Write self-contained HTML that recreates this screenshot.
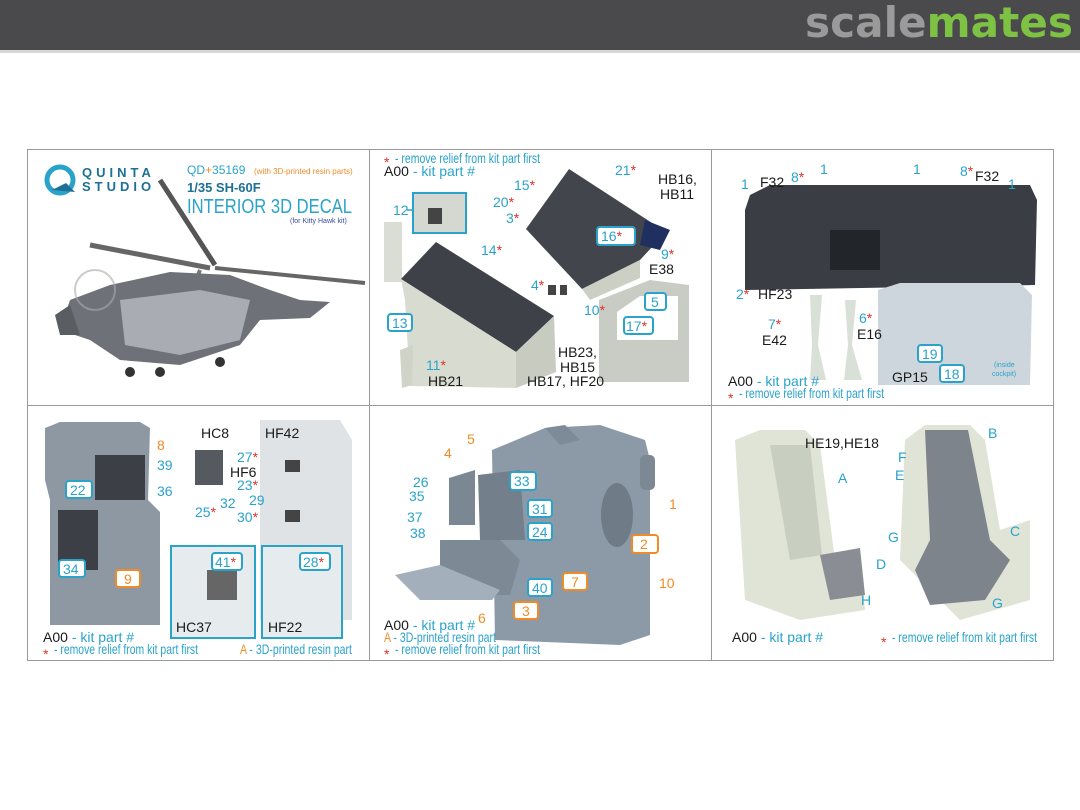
<!DOCTYPE html>
<html><head><meta charset="utf-8"><style>
html,body{margin:0;padding:0;background:#fff;width:1080px;height:810px;overflow:hidden}
svg{display:block}
text{font-family:"Liberation Sans",Arial,sans-serif}
.c{fill:#2aa3cb;font-size:14px}
.k{fill:#1a1a1a;font-size:14px}
.o{fill:#f08c28;font-size:14px}
.r{fill:#e3302a}
.bx{fill:#fff;stroke:#2aa3cb;stroke-width:2}
.ob{fill:#fff;stroke:#f08c28;stroke-width:2}
.lc{stroke:#2aa3cb;stroke-width:1.5}
</style></head><body>
<svg width="1080" height="810" viewBox="0 0 1080 810" xmlns="http://www.w3.org/2000/svg">
<rect x="0" y="0" width="1080" height="50" fill="#4a4a4c"/>
<rect x="0" y="50" width="1080" height="3" fill="#d8d8d8"/>
<text x="805" y="37" font-size="42" font-weight="bold" textLength="268" lengthAdjust="spacingAndGlyphs" style="font-family:'DejaVu Sans',sans-serif"><tspan fill="#9a9a9a">scale</tspan><tspan fill="#7dc242">mates</tspan></text>

<!-- grid -->
<rect x="27.5" y="149.5" width="1026" height="511" fill="#fff" stroke="#999" stroke-width="1"/>
<line x1="369.5" y1="149" x2="369.5" y2="661" stroke="#999"/>
<line x1="711.5" y1="149" x2="711.5" y2="661" stroke="#999"/>
<line x1="27" y1="405.5" x2="1054" y2="405.5" stroke="#999"/>

<!-- PANEL 1 -->
<circle cx="60" cy="180" r="13" fill="none" stroke="#2aa3cb" stroke-width="5"/>
<path d="M52 190 L75 192 L66 183 Z" fill="#1d6f96"/>
<text x="82" y="177" font-size="13" font-weight="bold" fill="#1d6f96" letter-spacing="4">QUINTA</text>
<text x="82" y="191" font-size="13" font-weight="bold" fill="#1d6f96" letter-spacing="4">STUDIO</text>
<text x="187" y="174" font-size="12" fill="#2aa3cb">QD<tspan fill="#f08c28">+</tspan>35169</text>
<text x="254" y="174" font-size="8" fill="#f08c28">(with 3D-printed resin parts)</text>
<text x="187" y="192" font-size="13" font-weight="bold" fill="#1d6f96">1/35 SH-60F</text>
<text x="187" y="213" font-size="20" fill="#2aa3cb" textLength="165" lengthAdjust="spacingAndGlyphs">INTERIOR 3D DECAL</text>
<text x="290" y="223" font-size="7" fill="#3a4aa0">(for Kitty Hawk kit)</text>
<!-- helicopter -->
<line x1="160" y1="180" x2="215" y2="265" stroke="#555" stroke-width="5"/>
<line x1="90" y1="245" x2="210" y2="268" stroke="#666" stroke-width="5"/>
<line x1="215" y1="268" x2="365" y2="283" stroke="#666" stroke-width="4"/>
<line x1="200" y1="270" x2="175" y2="335" stroke="#777" stroke-width="4"/>
<path d="M70 300 L110 285 L170 272 L230 275 L270 290 L300 300 L330 302 L310 318 L260 320 L240 345 L180 365 L120 360 L90 340 L60 330 Z" fill="#6e7178"/>
<path d="M120 300 L200 290 L250 300 L240 340 L180 355 L125 345 Z" fill="#a9adb3"/>
<path d="M55 315 L70 305 L80 335 L60 335 Z" fill="#5a5d62"/>
<circle cx="95" cy="290" r="20" fill="none" stroke="#aaa" stroke-width="2" opacity=".6"/>
<circle cx="130" cy="372" r="5" fill="#333"/><circle cx="220" cy="362" r="5" fill="#333"/><circle cx="160" cy="372" r="5" fill="#333"/>

<!-- PANEL 2 -->
<text x="384" y="167" class="r" font-size="14">*</text><text x="395" y="163" class="c" font-size="10" textLength="145" lengthAdjust="spacingAndGlyphs">- remove relief from kit part first</text>
<text x="384" y="176" class="k" font-size="10">A00 <tspan fill="#2aa3cb">- kit part #</tspan></text>
<rect x="384" y="222" width="18" height="60" fill="#d9ddd3"/>
<path d="M401 279 L436 242 L554 316 L516 352 Z" fill="#3e4248"/>
<path d="M401 279 L516 352 L516 388 L410 386 L405 300 Z" fill="#d8dcd0"/>
<path d="M516 352 L554 316 L556 372 L516 388 Z" fill="#c8ccc0"/>
<rect x="413" y="193" width="53" height="40" fill="#d5d8d0" stroke="#2aa3cb" stroke-width="2"/>
<rect x="428" y="208" width="14" height="16" fill="#444"/>
<path d="M400 350 L413 345 L412 385 L402 388 Z" fill="#d0d3c8"/>
<path d="M526 229 L569 169 L666 232 L640 260 L582 289 Z" fill="#42464c"/>
<path d="M582 289 L640 260 L640 278 L590 300 Z" fill="#ccd0c4"/>
<path d="M645 220 L670 230 L660 250 L640 245 Z" fill="#1e2f60"/>
<path d="M548 285 L556 285 L556 295 L548 295 Z M560 285 L567 285 L567 295 L560 295 Z" fill="#444"/>
<path d="M599 300 L650 280 L689 285 L689 382 L599 382 Z" fill="#c9ccc4"/>
<path d="M617 312 L640 296 L678 296 L678 340 L617 340 Z" fill="#fff"/>
<text x="393" y="215" class="c">12</text><line x1="407" y1="210" x2="413" y2="210" class="lc"/>
<rect x="388" y="314" width="24" height="17" rx="3" class="bx"/><text x="392" y="328" class="c">13</text>
<text x="481" y="255" class="c">14<tspan class="r">*</tspan></text>
<text x="514" y="190" class="c">15<tspan class="r">*</tspan></text>
<text x="493" y="207" class="c">20<tspan class="r">*</tspan></text>
<text x="506" y="223" class="c">3<tspan class="r">*</tspan></text>
<rect x="597" y="227" width="38" height="18" rx="3" class="bx"/><text x="601" y="241" class="c">16<tspan class="r">*</tspan></text>
<text x="615" y="175" class="c">21<tspan class="r">*</tspan></text>
<text x="658" y="184" class="k">HB16,</text><text x="660" y="199" class="k">HB11</text>
<text x="661" y="259" class="c">9<tspan class="r">*</tspan></text>
<text x="649" y="274" class="k">E38</text>
<text x="531" y="290" class="c">4<tspan class="r">*</tspan></text>
<text x="584" y="315" class="c">10<tspan class="r">*</tspan></text>
<rect x="645" y="293" width="21" height="17" rx="3" class="bx"/><text x="651" y="307" class="c">5</text>
<rect x="624" y="317" width="29" height="17" rx="3" class="bx"/><text x="626" y="331" class="c">17<tspan class="r">*</tspan></text>
<text x="558" y="357" class="k">HB23,</text><text x="560" y="372" class="k">HB15</text>
<text x="426" y="370" class="c">11<tspan class="r">*</tspan></text>
<text x="428" y="386" class="k">HB21</text>
<text x="527" y="386" class="k">HB17, HF20</text>

<!-- PANEL 3 -->
<path d="M750 195 L770 185 L1030 185 L1037 200 L1035 285 L745 290 L745 210 Z" fill="#3a3d43"/>
<rect x="830" y="230" width="50" height="40" fill="#22252a"/>
<path d="M878 290 L900 283 L1020 283 L1032 295 L1030 385 L878 385 Z" fill="#cdd6dc"/>
<path d="M810 295 L822 295 L818 345 L826 380 L810 380 L812 345 Z" fill="#d8e0d8"/>
<path d="M845 300 L856 300 L852 345 L862 380 L844 380 L848 345 Z" fill="#d8e0d8"/>
<text x="741" y="189" class="c">1</text><text x="820" y="174" class="c">1</text><text x="913" y="174" class="c">1</text><text x="1008" y="189" class="c">1</text>
<text x="760" y="187" class="k">F32</text><text x="791" y="182" class="c">8<tspan class="r">*</tspan></text>
<text x="960" y="176" class="c">8<tspan class="r">*</tspan></text><text x="975" y="181" class="k">F32</text>
<text x="736" y="299" class="c">2<tspan class="r">*</tspan></text><text x="758" y="299" class="k">HF23</text>
<text x="768" y="329" class="c">7<tspan class="r">*</tspan></text><text x="762" y="345" class="k">E42</text>
<text x="859" y="323" class="c">6<tspan class="r">*</tspan></text><text x="857" y="339" class="k">E16</text>
<rect x="918" y="345" width="24" height="17" rx="3" class="bx"/><text x="922" y="359" class="c">19</text>
<rect x="940" y="365" width="24" height="17" rx="3" class="bx"/><text x="944" y="379" class="c">18</text>
<text x="892" y="382" class="k">GP15</text>
<text x="994" y="367" font-size="7" fill="#2aa3cb">(inside</text><text x="992" y="376" font-size="7" fill="#2aa3cb">cockpit)</text>
<text x="728" y="386" class="k" font-size="10">A00 <tspan fill="#2aa3cb">- kit part #</tspan></text>
<text x="728" y="403" class="r" font-size="14">*</text><text x="739" y="398" class="c" font-size="10" textLength="145" lengthAdjust="spacingAndGlyphs">- remove relief from kit part first</text>

<!-- PANEL 4 -->
<path d="M45 428 L60 422 L140 422 L150 428 L148 500 L160 512 L160 625 L50 625 L50 500 L45 480 Z" fill="#8e98a3"/>
<rect x="95" y="455" width="50" height="45" fill="#3c4046"/>
<rect x="58" y="510" width="40" height="60" fill="#3c4046"/>
<rect x="195" y="450" width="28" height="35" fill="#555a60"/>
<path d="M260 420 L340 420 L352 440 L352 620 L260 620 Z" fill="#dfe3e6"/>
<rect x="285" y="460" width="15" height="12" fill="#444"/><rect x="285" y="510" width="15" height="12" fill="#444"/>
<rect x="171" y="546" width="84" height="92" fill="#e6ebee" stroke="#2aa3cb" stroke-width="2"/>
<rect x="262" y="546" width="80" height="92" fill="#e6ebee" stroke="#2aa3cb" stroke-width="2"/>
<rect x="207" y="570" width="30" height="30" fill="#666"/>
<text x="157" y="450" class="o">8</text><text x="157" y="470" class="c">39</text><text x="157" y="496" class="c">36</text>
<rect x="66" y="481" width="26" height="17" rx="3" class="bx"/><text x="70" y="495" class="c">22</text>
<rect x="59" y="560" width="26" height="17" rx="3" class="bx"/><text x="63" y="574" class="c">34</text>
<rect x="116" y="570" width="24" height="17" rx="3" class="ob"/><text x="124" y="584" class="o">9</text>
<text x="201" y="438" class="k">HC8</text><text x="265" y="438" class="k">HF42</text>
<text x="237" y="462" class="c">27<tspan class="r">*</tspan></text>
<text x="230" y="477" class="k">HF6</text>
<text x="237" y="490" class="c">23<tspan class="r">*</tspan></text>
<text x="249" y="505" class="c">29</text>
<text x="237" y="522" class="c">30<tspan class="r">*</tspan></text>
<text x="195" y="517" class="c">25<tspan class="r">*</tspan></text>
<text x="220" y="508" class="c">32</text>
<rect x="212" y="553" width="30" height="17" rx="3" class="bx"/><text x="215" y="567" class="c">41<tspan class="r">*</tspan></text>
<rect x="300" y="553" width="30" height="17" rx="3" class="bx"/><text x="303" y="567" class="c">28<tspan class="r">*</tspan></text>
<text x="176" y="632" class="k">HC37</text><text x="268" y="632" class="k">HF22</text>
<text x="43" y="642" class="k" font-size="10">A00 <tspan fill="#2aa3cb">- kit part #</tspan></text>
<text x="43" y="659" class="r" font-size="14">*</text><text x="54" y="654" class="c" font-size="10" textLength="144" lengthAdjust="spacingAndGlyphs">- remove relief from kit part first</text>
<text x="240" y="654" class="o" font-size="10" textLength="112" lengthAdjust="spacingAndGlyphs">A <tspan fill="#2aa3cb">- 3D-printed resin part</tspan></text>

<!-- PANEL 5 -->
<path d="M492 450 L545 428 L600 425 L645 440 L650 460 L650 635 L620 645 L495 640 Z" fill="#8c9aa7"/>
<path d="M545 428 L565 425 L580 440 L560 445 Z" fill="#7d8a97"/>
<path d="M449 478 L475 470 L475 525 L449 525 Z" fill="#7b8793"/>
<path d="M478 475 L520 470 L525 540 L480 540 Z" fill="#737f8b"/>
<path d="M440 540 L500 540 L520 560 L510 595 L440 595 Z" fill="#7d8995"/>
<path d="M395 575 L440 565 L500 590 L492 600 L420 600 Z" fill="#a3b0bc"/>
<ellipse cx="617" cy="515" rx="16" ry="32" fill="#6f7b87"/>
<rect x="640" y="455" width="15" height="35" rx="5" fill="#7c8894"/>
<text x="444" y="458" class="o">4</text><text x="467" y="444" class="o">5</text>
<rect x="510" y="472" width="26" height="18" rx="3" class="bx"/><text x="514" y="486" class="c">33</text>
<text x="413" y="487" class="c">26</text><text x="409" y="501" class="c">35</text><text x="407" y="522" class="c">37</text><text x="410" y="538" class="c">38</text>
<rect x="528" y="500" width="24" height="17" rx="3" class="bx"/><text x="532" y="514" class="c">31</text>
<rect x="528" y="523" width="24" height="17" rx="3" class="bx"/><text x="532" y="537" class="c">24</text>
<rect x="528" y="579" width="24" height="17" rx="3" class="bx"/><text x="532" y="593" class="c">40</text>
<rect x="632" y="535" width="26" height="18" rx="3" class="ob"/><text x="640" y="549" class="o">2</text>
<rect x="563" y="573" width="24" height="17" rx="3" class="ob"/><text x="571" y="587" class="o">7</text>
<rect x="514" y="602" width="24" height="17" rx="3" class="ob"/><text x="522" y="616" class="o">3</text>
<text x="669" y="509" class="o">1</text><text x="659" y="588" class="o">10</text><text x="478" y="623" class="o">6</text>
<text x="384" y="630" class="k" font-size="10">A00 <tspan fill="#2aa3cb">- kit part #</tspan></text>
<text x="384" y="642" class="o" font-size="10" textLength="112" lengthAdjust="spacingAndGlyphs">A <tspan fill="#2aa3cb">- 3D-printed resin part</tspan></text>
<text x="384" y="659" class="r" font-size="14">*</text><text x="395" y="654" class="c" font-size="10" textLength="145" lengthAdjust="spacingAndGlyphs">- remove relief from kit part first</text>

<!-- PANEL 6 -->
<path d="M735 440 L760 430 L805 430 L820 445 L835 560 L860 555 L865 610 L800 620 L745 600 Z" fill="#e0e4d6"/>
<path d="M770 445 L810 445 L822 555 L790 560 Z" fill="#c9cfc0"/>
<path d="M820 555 L860 548 L865 595 L830 600 Z" fill="#8a8e94"/>
<path d="M905 440 L925 425 L970 425 L985 440 L1000 530 L1030 520 L1030 600 L960 620 L900 560 Z" fill="#e0e4d6"/>
<path d="M925 430 L968 430 L990 540 L1010 560 L985 600 L930 605 L915 570 L930 540 Z" fill="#7e848b"/>
<text x="805" y="448" class="k">HE19,HE18</text>
<text x="838" y="483" class="c">A</text><text x="988" y="438" class="c">B</text>
<text x="898" y="462" class="c">F</text><text x="895" y="480" class="c">E</text>
<text x="1010" y="536" class="c">C</text><text x="888" y="542" class="c">G</text>
<text x="876" y="569" class="c">D</text><text x="861" y="605" class="c">H</text><text x="992" y="608" class="c">G</text>
<text x="732" y="642" class="k" font-size="10">A00 <tspan fill="#2aa3cb">- kit part #</tspan></text>
<text x="881" y="647" class="r" font-size="14">*</text><text x="892" y="642" class="c" font-size="10" textLength="145" lengthAdjust="spacingAndGlyphs">- remove relief from kit part first</text>
</svg>
</body></html>
